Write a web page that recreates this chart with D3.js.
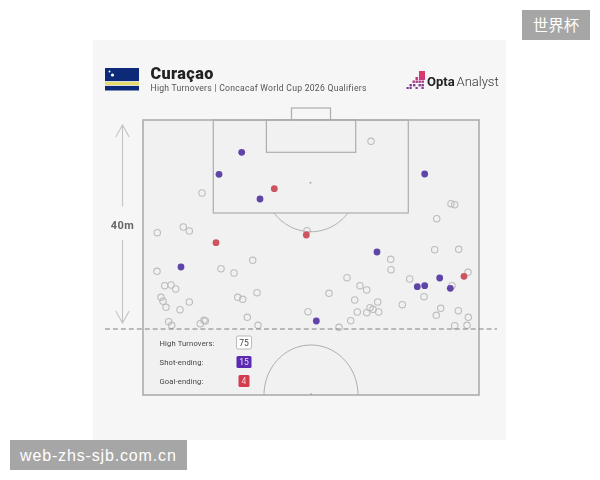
<!DOCTYPE html>
<html><head><meta charset="utf-8">
<script src="https://cdnjs.cloudflare.com/ajax/libs/d3/7.8.5/d3.min.js"></script>
<style>html,body{margin:0;padding:0;background:#fff}svg{display:block}</style></head>
<body><svg id="c" width="600" height="480"></svg>
<script>
const titleText = "Curaçao";
const subtitleText = "High Turnovers | Concacaf World Cup 2026 Qualifiers";
const legendLabels = ["High Turnovers:", "Shot-ending:", "Goal-ending:"];
const legendCounts = [75, 15, 4];
// positions in pitch units: x across the pitch (0-336), y from the goal line (0-275)
const openX = [59,14.3,40.3,46.3,164,228,308,311.7,293.7,109.7,14,78,91,21.7,28,32.7,18,20,23,46.3,37,94.7,99.7,114,104.3,25.7,28.7,57.3,61,62.3,115,165,291.7,315.7,247.7,248,204,266.7,325,309,217,223.7,186,211.7,281,234.7,259.3,227,230,214.3,223.7,235.7,297.7,293.3,315.3,325.3,207.7,311.7,324,196];
const openY = [73,112.7,107,111,110.7,21.3,83.7,84.7,98.7,140.3,151.3,148.7,153,165.7,165,169,177.3,181.3,187.3,182,189.7,177.3,179.3,172.7,197.3,201.7,205.3,203.7,200.3,201,205.3,191.7,129.7,129.3,139.3,149.7,157.7,159,152.3,165.7,165.7,170,173.3,180,176.7,182,184.7,187.7,189.3,192,192.7,192,188.3,195.3,190.7,197.3,200.7,205.7,205.3,207.3];
const shotX = [98.7,76,117,281.7,38,173.3,234,274.3,281.7,296.7,307.3];
const shotY = [32.3,54.3,79,54,147,201,132,166.7,165.7,158,168.3];
const goalX = [131.3,73,163.3,321];
const goalY = [68.7,122.7,115,156.3];
const colors = {open:"#bdbdbd", shot:"#5f45a8", goal:"#cc5560", line:"#adadad"};

const svg = d3.select("#c");
const x = d3.scaleLinear().domain([0,336]).range([143,479]);
const y = d3.scaleLinear().domain([0,275]).range([120,395]);
const font = "Roboto, sans-serif";

svg.append("defs").html('<filter id="soft" x="-5%" y="-5%" width="110%" height="110%"><feGaussianBlur stdDeviation="0.4"/></filter>');
svg.append("rect").attr("x",93).attr("y",40).attr("width",413).attr("height",400).attr("fill","#f6f6f6");
const g = svg.append("g").attr("filter","url(#soft)");

// flag
g.append("rect").attr("x",105).attr("y",68).attr("width",34).attr("height",22.5).attr("fill","#0a2a78");
g.append("rect").attr("x",105).attr("y",82).attr("width",34).attr("height",3).attr("fill","#e5dc6a");
g.append("rect").attr("x",105).attr("y",81).attr("width",34).attr("height",1).attr("fill","#d8dbe6");
g.append("rect").attr("x",105).attr("y",85).attr("width",34).attr("height",1).attr("fill","#d8dbe6");
[[109.5,71.5,1],[112.5,75,1.6]].forEach(s=>g.append("circle").attr("cx",s[0]).attr("cy",s[1]).attr("r",s[2]).attr("fill","#fff"));

// titles
g.append("text").attr("x",150.5).attr("y",79).text(titleText).attr("font-family",font).attr("font-weight",900).attr("font-size",16.2).attr("letter-spacing",0.4).attr("fill","#222");
g.append("text").attr("x",150.5).attr("y",91).text(subtitleText).attr("font-family",font).attr("font-size",8.6).attr("letter-spacing",0.27).attr("fill","#555");

// logo
const logoCells = [[419,72,"#d8386a",6,6],[419,78,"#c83a78",6,3],[415.5,78,"#c83a78",2.5,3],[421.5,81.5,"#a83a88",2.4,2.4],[418.5,81.5,"#a83a88",2.4,2.4],[415.5,81.5,"#a83a88",2.4,2.4],[412.5,81.5,"#a83a88",2.4,2.4],[421.5,85,"#8a3a90",2.4,2.4],[418.5,85,"#8a3a90",2.4,2.4],[413,85,"#8a3a90",2.4,2.4],[409.5,85,"#8a3a90",2.4,2.4],[421.5,88,"#7a3a98",2.2,2],[415.5,88,"#7a3a98",2.2,2],[409.5,88,"#7a3a98",2.2,2],[406.5,88,"#7a3a98",2.2,2]];
g.selectAll(".lg").data(logoCells).join("rect").attr("x",d=>d[0]).attr("y",d=>d[1]-1).attr("width",d=>d[3]).attr("height",d=>d[4]).attr("fill",d=>d[2]);
g.append("text").attr("x",427).attr("y",86).text("Opta").attr("font-family",font).attr("font-weight",700).attr("font-size",13).attr("fill","#222");
g.append("text").attr("x",456.5).attr("y",86).text("Analyst").attr("font-family",font).attr("font-weight",300).attr("font-size",13).attr("fill","#333");

// pitch
const pl = g.append("g").attr("fill","none").attr("stroke",colors.line);
pl.append("rect").attr("x",x(0)).attr("y",y(0)).attr("width",x(336)-x(0)).attr("height",y(275)-y(0)).attr("fill","#f1f1f2").attr("stroke-width",1.6);
pl.append("rect").attr("x",x(148.5)).attr("y",108).attr("width",x(187.5)-x(148.5)).attr("height",y(0)-108).attr("stroke-width",1.2);
pl.append("rect").attr("x",x(70.3)).attr("y",y(0)).attr("width",x(265.3)-x(70.3)).attr("height",y(93)-y(0)).attr("stroke-width",1.2);
pl.append("rect").attr("x",x(123.4)).attr("y",y(0)).attr("width",x(212.7)-x(123.4)).attr("height",y(32.3)-y(0)).attr("stroke-width",1.2);
const ell = (cx,cy,rx,ry,a0,a1)=>d3.line().x(a=>x(cx)+rx*Math.cos(a)).y(a=>y(cy)+ry*Math.sin(a))(d3.range(0,61).map(i=>a0+(a1-a0)*i/60));
const a = Math.asin(30.3/49);
pl.append("path").attr("d",ell(168,62.7,47,49,a,Math.PI-a)).attr("stroke-width",1);
pl.append("path").attr("d",ell(168,275,47,50,Math.PI,2*Math.PI)).attr("stroke-width",1);
g.append("circle").attr("cx",x(167.5)).attr("cy",y(62.7)).attr("r",1).attr("fill","#aaa");
g.append("circle").attr("cx",x(168)).attr("cy",y(274)).attr("r",.7).attr("fill","#888");

// distance arrow
const arrowX = 122.5;
const ar = g.append("g").attr("stroke","#c4c4c4").attr("fill","none").attr("stroke-width",1.1);
ar.append("path").attr("d",`M${arrowX},125V206.5M${arrowX-6.7},137L${arrowX},125L${arrowX+6.7},137`);
ar.append("path").attr("d",`M${arrowX},240V323M${arrowX-6.7},311L${arrowX},323L${arrowX+6.7},311`);
g.append("text").attr("x",arrowX).attr("y",228.5).attr("text-anchor","middle").text("40m").attr("font-family",font).attr("font-weight",700).attr("font-size",11).attr("letter-spacing",0.4).attr("fill","#666");

// points
g.selectAll(".o").data(openX.map((d,i)=>[d,openY[i]])).join("circle").attr("cx",d=>x(d[0])).attr("cy",d=>y(d[1])).attr("r",3.2).attr("fill","none").attr("stroke",colors.open).attr("stroke-width",1.1);
g.selectAll(".s").data(shotX.map((d,i)=>[d,shotY[i]])).join("circle").attr("cx",d=>x(d[0])).attr("cy",d=>y(d[1])).attr("r",3.4).attr("fill",colors.shot);
g.selectAll(".g").data(goalX.map((d,i)=>[d,goalY[i]])).join("circle").attr("cx",d=>x(d[0])).attr("cy",d=>y(d[1])).attr("r",3.4).attr("fill",colors.goal);

// 40m line
g.append("line").attr("x1",105).attr("x2",497).attr("y1",329).attr("y2",329).attr("stroke","#808080").attr("stroke-width",1).attr("stroke-dasharray","5 2.95");

// legend
const ly = [343,362,381];
const boxes = [[236.5,336,15,13,"#fff","#aaa","#444"],[236.5,356,15,12,"#5b2bb0","none","#e8e0f8"],[238.5,375,11,12,"#d43a50","none","#f6d0d6"]];
legendLabels.forEach((t,i)=>{
  g.append("text").attr("x",159.5).attr("y",ly[i]+2.5).text(t).attr("font-family",font).attr("font-size",7.6).attr("letter-spacing",0.15).attr("fill","#444");
  const b = boxes[i];
  g.append("rect").attr("x",b[0]).attr("y",b[1]).attr("width",b[2]).attr("height",b[3]).attr("rx",1.5).attr("fill",b[4]).attr("stroke",b[5]).attr("stroke-width",.8);
  g.append("text").attr("x",b[0]+b[2]/2).attr("y",b[1]+b[3]/2+3).attr("text-anchor","middle").text(legendCounts[i]).attr("font-family",font).attr("font-size",8.5).attr("fill",b[6]);
});

// watermarks
svg.append("rect").attr("x",522).attr("y",10).attr("width",68).attr("height",30).attr("fill","#a6a6a6");
svg.append("text").attr("x",556).attr("y",31).attr("text-anchor","middle").text("世界杯").attr("font-family","'Noto Sans CJK SC'").attr("font-size",15.5).attr("fill","#fff");
svg.append("rect").attr("x",10).attr("y",440).attr("width",177).attr("height",30).attr("fill","#a6a6a6");
svg.append("text").attr("x",20).attr("y",460.5).text("web-zhs-sjb.com.cn").attr("font-family","'Liberation Sans'").attr("font-size",16).attr("letter-spacing",0.85).attr("fill","#fff");
</script></body></html>
